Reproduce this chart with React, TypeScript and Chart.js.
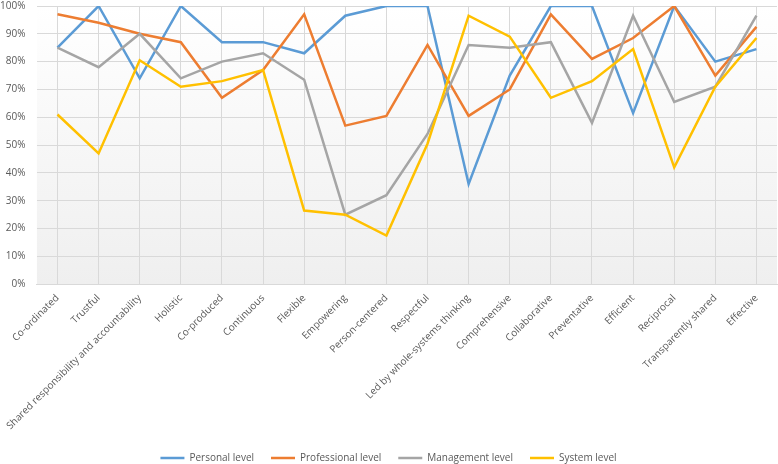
import { useEffect, useRef } from "react";
import { Chart, registerables } from "chart.js";

Chart.register(...registerables);

const CATEGORIES = [
    "Co-ordinated",
    "Trustful",
    "Shared responsibility and accountability",
    "Holistic",
    "Co-produced",
    "Continuous",
    "Flexible",
    "Empowering",
    "Person-centered",
    "Respectful",
    "Led by whole-systems thinking",
    "Comprehensive",
    "Collaborative",
    "Preventative",
    "Efficient",
    "Reciprocal",
    "Transparently shared",
    "Effective",
];

const PERSONAL = [85, 100, 74, 100, 87, 87, 83, 96.5, 100, 100, 36, 75, 100, 100, 61.5, 100, 80, 84.5];
const PROFESSIONAL = [97, 94, 90, 87, 67, 77, 97, 57, 60.5, 86, 60.5, 70, 97, 81, 88.5, 100, 75, 92.5];
const MANAGEMENT = [85, 78, 90, 74, 80, 83, 73.5, 25, 32, 54, 86, 85, 87, 58, 96.5, 65.5, 71, 96.5];
const SYSTEM = [61, 47, 80.5, 71, 73, 77, 26.5, 25, 17.5, 50.5, 96.5, 89, 67, 73, 84.5, 42, 71, 88.5];

const SERIES = [
    { label: "Personal level", data: PERSONAL, color: "#5B9BD5" },
    { label: "Professional level", data: PROFESSIONAL, color: "#ED7D31" },
    { label: "Management level", data: MANAGEMENT, color: "#A5A5A5" },
    { label: "System level", data: SYSTEM, color: "#FFC000" },
];

const TEXT = "#595959";
const GRID = "#d9d9d9";
const FONT = "'Open Sans', sans-serif";

// soft white-to-grey fill behind the plot, like the office theme
const plotBackground = {
    id: "plotBackground",
    beforeDraw(chart: Chart) {
        const { ctx, chartArea } = chart;
        if (!chartArea) return;
        const g = ctx.createLinearGradient(0, chartArea.top, 0, chartArea.bottom);
        g.addColorStop(0, "#ffffff");
        g.addColorStop(1, "#efefef");
        ctx.save();
        ctx.fillStyle = g;
        ctx.fillRect(chartArea.left, chartArea.top, chartArea.right - chartArea.left, chartArea.bottom - chartArea.top);
        ctx.restore();
    },
};

export default function App() {
    const canvasRef = useRef<HTMLCanvasElement>(null);

    useEffect(() => {
        document.body.style.margin = "0";
        if (!canvasRef.current) return;

        const chart = new Chart(canvasRef.current, {
            type: "line",
            data: {
                labels: CATEGORIES,
                datasets: SERIES.map((s, i) => ({
                    label: s.label,
                    data: s.data,
                    borderColor: s.color,
                    backgroundColor: s.color,
                    borderWidth: 2.5,
                    pointRadius: 0,
                    tension: 0,
                    order: SERIES.length - i,
                })),
            },
            options: {
                animation: false,
                responsive: true,
                maintainAspectRatio: false,
                layout: { padding: { top: 0, right: 1, bottom: -9, left: 0 } },
                scales: {
                    x: {
                        offset: true,
                        grid: { offset: false, color: GRID, tickLength: 4, tickColor: "rgba(0,0,0,0)" },
                        border: { color: GRID },
                        ticks: {
                            color: TEXT,
                            font: { family: FONT, size: 10 },
                            minRotation: 45,
                            maxRotation: 45,
                            autoSkip: false,
                            padding: 4,
                        },
                    },
                    y: {
                        min: 0,
                        max: 100,
                        grid: { color: GRID, tickLength: 11.5, tickColor: "rgba(0,0,0,0)" },
                        border: { display: false },
                        ticks: {
                            stepSize: 10,
                            color: TEXT,
                            font: { family: FONT, size: 10 },
                            padding: 0,
                            callback: (v) => `${v}%`,
                        },
                    },
                },
                plugins: {
                    legend: {
                        position: "bottom",
                        labels: {
                            color: TEXT,
                            font: { family: FONT, size: 10 },
                            usePointStyle: true,
                            pointStyle: "line",
                            pointStyleWidth: 24,
                            padding: 17,
                            sort: (a, b) => (a.datasetIndex ?? 0) - (b.datasetIndex ?? 0),
                        },
                    },
                    tooltip: { enabled: false },
                },
            },
            plugins: [plotBackground],
        });

        return () => {
            chart.destroy();
        };
    }, []);

    return (
        <div style={{ position: "relative", width: "778px", height: "464px" }}>
            <canvas ref={canvasRef} role="img" aria-label="Line chart of ratings by level across care attributes" />
        </div>
    );
}
